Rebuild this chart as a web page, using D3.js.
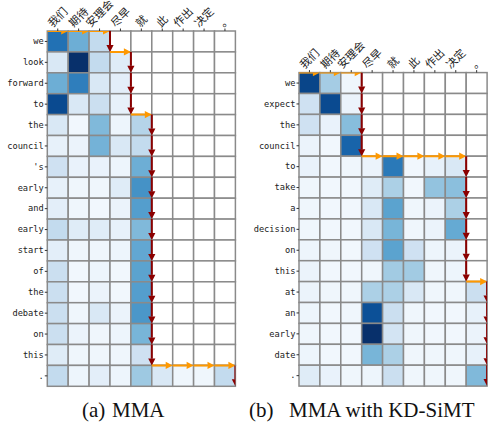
<!DOCTYPE html>
<html>
<head>
<meta charset="utf-8">
<script src="https://cdn.jsdelivr.net/npm/d3@7"></script>
<style>
  body { margin: 0; background: #fff; }
  .ylab { font-family: "DejaVu Sans Mono", monospace; font-size: 8.7px; fill: #222; }
  .xlab { font-family: "Noto Sans CJK SC", sans-serif; font-size: 11px; fill: #222; }
  .caption { font-family: "Liberation Serif", "Times New Roman", serif; font-size: 21px; fill: #111; }
</style>
</head>
<body>
<svg id="chart"></svg>
<script>
// source tokens (columns), shared by both panels
const srcTokens = ["我们", "期待", "安理会", "尽早", "就", "此", "作出", "决定", "。"];

// (a) MMA
const tgtA = ["we", "look", "forward", "to", "the", "council", "'s", "early", "and",
  "early", "start", "of", "the", "debate", "on", "this", "."];
const readsA = [3, 4, 4, 4, 5, 5, 5, 5, 5, 5, 5, 5, 5, 5, 5, 5, 9];
const attnA = [
  [0.75, 0.50, 0.25],
  [0.15, 1.00, 0.25, 0.12],
  [0.50, 0.70, 0.15, 0.10],
  [0.90, 0.15, 0.22, 0.08],
  [0.15, 0.03, 0.45, 0.05, 0.30],
  [0.08, 0.06, 0.48, 0.15, 0.25],
  [0.20, 0.07, 0.07, 0.05, 0.50],
  [0.08, 0.04, 0.04, 0.12, 0.62],
  [0.10, 0.04, 0.03, 0.06, 0.57],
  [0.25, 0.12, 0.12, 0.08, 0.45],
  [0.10, 0.04, 0.04, 0.05, 0.53],
  [0.22, 0.03, 0.05, 0.03, 0.55],
  [0.22, 0.03, 0.06, 0.03, 0.57],
  [0.22, 0.04, 0.15, 0.06, 0.60],
  [0.22, 0.06, 0.04, 0.05, 0.47],
  [0.12, 0.04, 0.04, 0.04, 0.20],
  [0.25, 0.05, 0.10, 0.05, 0.37, 0.15, 0.04, 0.04, 0.25]
];

// (b) MMA with KD-SiMT
const tgtB = ["we", "expect", "the", "council", "to", "take", "a", "decision", "on",
  "this", "at", "an", "early", "date", "."];
const readsB = [3, 3, 3, 3, 8, 8, 8, 8, 8, 8, 9, 9, 9, 9, 9];
const attnB = [
  [0.92, 0.35, 0.04],
  [0.20, 0.90, 0.06],
  [0.20, 0.07, 0.43],
  [0.06, 0.03, 0.80],
  [0.07, 0.03, 0.04, 0.06, 0.72, 0.03, 0.08, 0.15],
  [0.04, 0.03, 0.03, 0.12, 0.33, 0.03, 0.40, 0.42],
  [0.04, 0.03, 0.03, 0.15, 0.55, 0.04, 0.06, 0.33],
  [0.04, 0.03, 0.03, 0.15, 0.47, 0.04, 0.06, 0.52],
  [0.05, 0.04, 0.03, 0.20, 0.55, 0.20, 0.05, 0.06],
  [0.06, 0.03, 0.03, 0.04, 0.36, 0.36, 0.04, 0.05],
  [0.06, 0.04, 0.04, 0.33, 0.33, 0.15, 0.04, 0.04, 0.22],
  [0.05, 0.03, 0.04, 0.88, 0.22, 0.04, 0.03, 0.03, 0.08],
  [0.04, 0.03, 0.03, 1.00, 0.18, 0.04, 0.03, 0.03, 0.06],
  [0.05, 0.03, 0.03, 0.47, 0.33, 0.04, 0.04, 0.04, 0.08],
  [0.12, 0.07, 0.04, 0.05, 0.22, 0.04, 0.04, 0.04, 0.45]
];

const W = 497, H = 430;
const cell = 20.9;
const readColor = "#ff9900", writeColor = "#8b0000";
const color = d3.scaleSequential(d3.interpolateBlues).domain([0, 1]);

const svg = d3.select("#chart").attr("width", W).attr("height", H);

function drawPanel(id, left, top, tgt, attn, reads) {
  const width = srcTokens.length * cell, height = tgt.length * cell;
  const x = d3.scaleBand().domain(d3.range(srcTokens.length)).range([0, width]);
  const y = d3.scaleBand().domain(d3.range(tgt.length)).range([0, height]);

  const g = svg.append("g").attr("transform", `translate(${left},${top})`);

  // heat cells (cells not yet read stay white)
  const cells = [];
  tgt.forEach((t, r) => srcTokens.forEach((s, c) => cells.push({r, c, v: c < attn[r].length ? attn[r][c] : null})));
  g.selectAll("rect.cell").data(cells).join("rect")
    .attr("class", "cell")
    .attr("x", d => x(d.c)).attr("y", d => y(d.r))
    .attr("width", x.bandwidth()).attr("height", y.bandwidth())
    .attr("fill", d => d.v === null ? "#fff" : color(d.v))
    .attr("stroke", "#8a8a8a").attr("stroke-width", 1.5);

  // axes: labels on left and top
  const yAxis = d3.axisLeft(y).tickSize(2.5).tickPadding(1).tickFormat(i => tgt[i]);
  g.append("g").call(yAxis)
    .call(a => a.select(".domain").remove())
    .call(a => a.selectAll("line").attr("stroke", "#333"))
    .call(a => a.selectAll("text").attr("class", "ylab").attr("font-family", null).attr("font-size", null));

  const xAxis = d3.axisTop(x).tickSize(2.5).tickFormat(i => srcTokens[i]);
  g.append("g").call(xAxis)
    .call(a => a.select(".domain").remove())
    .call(a => a.selectAll("line").attr("stroke", "#333"))
    .call(a => a.selectAll("text").attr("class", "xlab")
      .attr("font-family", null).attr("font-size", null)
      .attr("text-anchor", "middle").attr("dy", "0.35em")
      .each(function() {
        // rotated box centred on the tick, bottom resting just above it
        const L = this.getComputedTextLength(), h = 10;
        const half = (L + h) / (2 * Math.SQRT2);
        d3.select(this).attr("y", 0).attr("transform", `translate(0,${-2.5 - half}) rotate(-45)`);
      }));

  // read / write path arrows, clipped to the grid
  g.append("clipPath").attr("id", id + "-clip")
    .append("rect").attr("width", width).attr("height", height);
  const arrows = g.append("g").attr("clip-path", `url(#${id}-clip)`);

  const segs = [];
  let prev = 0;
  reads.forEach((n, r) => {
    for (let c = prev; c < n; c++) {
      segs.push({x1: x(c), y1: y(r), x2: x(c) + x.bandwidth(), y2: y(r), col: readColor});
    }
    const xe = n < srcTokens.length ? x(n) : width;
    segs.push({x1: xe, y1: y(r), x2: xe, y2: y(r) + y.bandwidth(), col: writeColor});
    prev = n;
  });

  const hl = 7, hw = 3.6;
  segs.forEach(s => {
    const dx = s.x2 - s.x1, dy = s.y2 - s.y1, len = Math.hypot(dx, dy);
    const ux = dx / len, uy = dy / len;
    const bx = s.x2 - ux * hl, by = s.y2 - uy * hl;
    arrows.append("line")
      .attr("x1", s.x1).attr("y1", s.y1).attr("x2", bx).attr("y2", by)
      .attr("stroke", s.col).attr("stroke-width", 2);
    arrows.append("path")
      .attr("d", `M${s.x2},${s.y2}L${bx - uy * hw},${by + ux * hw}L${bx + uy * hw},${by - ux * hw}Z`)
      .attr("fill", s.col);
  });
}

function caption(label, name, x0, x1) {
  const t = svg.append("text").attr("class", "caption").attr("y", 417);
  t.append("tspan").attr("x", x0).text(label);
  t.append("tspan").attr("x", x1).text(name);
}

drawPanel("pa", 47.3, 31, tgtA, attnA, readsA);
drawPanel("pb", 299, 72.6, tgtB, attnB, readsB);
caption("(a)", "MMA", 82, 112);
caption("(b)", "MMA with KD-SiMT", 249, 289);
</script>
</body>
</html>
